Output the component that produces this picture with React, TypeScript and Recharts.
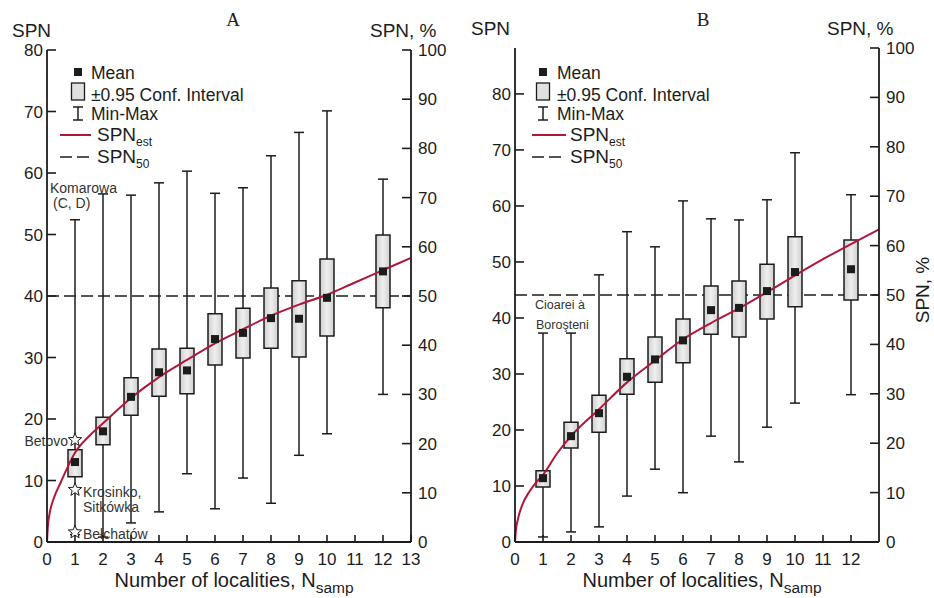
import React from "react";
import {
  ComposedChart,
  Bar,
  Line,
  Scatter,
  ErrorBar,
  XAxis,
  YAxis,
  ReferenceLine,
  ReferenceDot,
  Legend,
} from "recharts";

const INK = "#1c1c1c";
const RED = "#b0163a";
const FONT = "'Liberation Sans', Arial, sans-serif";

// ---- panel A ----
const nA = [1, 2, 3, 4, 5, 6, 7, 8, 9, 10, 12];
const meanA = [13.0, 18.0, 23.6, 27.6, 27.9, 33.0, 34.0, 36.4, 36.3, 39.7, 44.0];
const ciLowA = [10.6, 15.8, 20.6, 23.7, 24.1, 28.8, 29.9, 31.5, 30.1, 33.5, 38.1];
const ciHighA = [15.0, 20.3, 26.7, 31.4, 31.5, 37.1, 38.0, 41.3, 42.5, 46.0, 49.9];
const minA = [1.2, 0.8, 3.1, 4.9, 11.1, 5.4, 10.4, 6.3, 14.1, 17.6, 24.0];
const maxA = [52.4, 56.6, 56.4, 58.4, 60.3, 56.7, 57.6, 62.8, 66.6, 70.1, 59.0];
const curveNA = [0, 0.03, 0.1, 0.25, 0.5, 0.75, 1, 1.5, 2, 3, 4, 5, 6, 7, 8, 9, 10, 11, 12, 13];
const curveVA = [0, 2.5, 4.8, 7.2, 9.8, 12.3, 14.5, 17.2, 19.3, 23.4, 26.8, 29.6, 32.3, 34.6, 36.8, 38.6, 40.2, 42.2, 44.2, 46.2];
const spn50A = 40;
const starValuesA = [16.6, 8.5, 1.6];
const starNamesA = [["Betovo"], ["Krosinko,", "Sitkówka"], ["Bełchatów"]];
const noteA = ["Komarowa", "(C, D)"];
const xTicksA = [0, 1, 2, 3, 4, 5, 6, 7, 8, 9, 10, 11, 12, 13];
const leftTicksA = [0, 10, 20, 30, 40, 50, 60, 70, 80];

// ---- panel B ----
const nB = [1, 2, 3, 4, 5, 6, 7, 8, 9, 10, 12];
const meanB = [11.4, 18.9, 23.0, 29.5, 32.6, 36.0, 41.4, 41.8, 44.8, 48.2, 48.7];
const ciLowB = [9.8, 16.8, 19.6, 26.4, 28.5, 32.0, 37.1, 36.6, 39.8, 42.0, 43.2];
const ciHighB = [12.7, 21.4, 26.2, 32.7, 36.6, 39.8, 45.7, 46.6, 49.6, 54.5, 53.9];
const minB = [0.9, 1.8, 2.7, 8.2, 13.0, 8.8, 18.9, 14.3, 20.5, 24.8, 26.3];
const maxB = [37.3, 37.3, 47.7, 55.4, 52.7, 60.9, 57.7, 57.5, 61.1, 69.5, 62.0];
const curveNB = [0, 0.03, 0.1, 0.25, 0.5, 0.75, 1, 1.5, 2, 3, 4, 5, 6, 7, 8, 9, 10, 11, 12, 13];
const curveVB = [0, 2.0, 4.0, 6.5, 8.9, 10.6, 12.0, 15.8, 18.9, 23.7, 28.5, 32.4, 36.2, 39.1, 41.7, 44.6, 47.6, 50.5, 53.2, 55.8];
const spn50B = 44.1;
const noteB = ["Cioarei à", "Boroşteni"];
const xTicksB = [0, 1, 2, 3, 4, 5, 6, 7, 8, 9, 10, 11, 12];
const leftTicksB = [0, 10, 20, 30, 40, 50, 60, 70, 80];

const rightTicks = [0, 10, 20, 30, 40, 50, 60, 70, 80, 90, 100];

const buildRows = (n: number[], mean: number[], lo: number[], hi: number[], min: number[], max: number[]) =>
  n.map((x, i) => ({
    n: x,
    mean: mean[i],
    ci: [lo[i], hi[i]],
    err: [mean[i] - min[i], max[i] - mean[i]],
  }));

const buildCurve = (n: number[], v: number[]) => n.map((x, i) => ({ n: x, v: v[i] }));

const LeftTick = (p: any) => (
  <g>
    <line x1={p.x} y1={p.y} x2={p.x + 9} y2={p.y} stroke={INK} strokeWidth={1.6} />
    <text x={p.x - 4} y={p.y + 6} textAnchor="end" fontSize={17} fill={INK}>
      {p.payload.value}
    </text>
  </g>
);

const RightTick = (p: any) => (
  <g>
    <line x1={p.x - 9} y1={p.y} x2={p.x} y2={p.y} stroke={INK} strokeWidth={1.6} />
    <text x={p.x + 7} y={p.y + 6} textAnchor="start" fontSize={17} fill={INK}>
      {p.payload.value}
    </text>
  </g>
);

const BottomTick = (p: any) => (
  <g>
    <line x1={p.x} y1={p.y} x2={p.x} y2={p.y - 7} stroke={INK} strokeWidth={1.6} />
    <text x={p.x} y={p.y + 23} textAnchor="middle" fontSize={17} fill={INK}>
      {p.payload.value}
    </text>
  </g>
);

const MeanSquare = (p: any) => <rect x={p.cx - 4} y={p.cy - 4} width={8} height={8} fill={INK} />;

const Star = (p: any) => {
  const pts: string[] = [];
  for (let i = 0; i < 10; i++) {
    const r = i % 2 === 0 ? 7 : 3;
    const a = -Math.PI / 2 + (i * Math.PI) / 5;
    pts.push(`${p.cx + r * Math.cos(a)},${p.cy + r * Math.sin(a)}`);
  }
  return <polygon points={pts.join(" ")} fill="#fff" stroke={INK} strokeWidth={1} />;
};

const LegendBox = ({ iconCx, textX, lineX2, spnX }: any) => (
  <svg width={240} height={112} style={{ overflow: "visible", fontFamily: FONT }}>
    <rect x={iconCx - 4} y={8} width={8} height={8} fill={INK} />
    <text x={textX} y={19} fontSize={17.5} fill={INK}>Mean</text>
    <rect x={iconCx - 6.5} y={23} width={13} height={17} fill="#e0e0e0" stroke={INK} strokeWidth={1.3} />
    <text x={textX} y={41} fontSize={17.5} fill={INK}>±0.95 Conf. Interval</text>
    <line x1={iconCx} y1={47} x2={iconCx} y2={60} stroke={INK} strokeWidth={1.5} />
    <line x1={iconCx - 5} y1={47} x2={iconCx + 5} y2={47} stroke={INK} strokeWidth={1.5} />
    <line x1={iconCx - 5} y1={60} x2={iconCx + 5} y2={60} stroke={INK} strokeWidth={1.5} />
    <text x={textX} y={60} fontSize={17.5} fill={INK}>Min-Max</text>
    <line x1={2} y1={75} x2={lineX2} y2={75} stroke={RED} strokeWidth={2} />
    <text x={spnX} y={81} fontSize={19} fill={INK}>
      SPN<tspan fontSize={12} dy={5}>est</tspan>
    </text>
    <line x1={2} y1={97} x2={lineX2} y2={97} stroke={INK} strokeWidth={1.6} strokeDasharray="12 5" />
    <text x={spnX} y={103} fontSize={19} fill={INK}>
      SPN<tspan fontSize={12} dy={5}>50</tspan>
    </text>
  </svg>
);

const XTitle = ({ viewBox }: any) => (
  <text x={viewBox.x + viewBox.width / 2 + 5} y={viewBox.y + 45} textAnchor="middle" fontSize={20} fill={INK}>
    Number of localities, N<tspan fontSize={15.5} dy={6}>samp</tspan>
  </text>
);

interface PanelCfg {
  id: string;
  title: string;
  titleX: number;
  top: number;
  leftW: number;
  rightW: number;
  leftMax: number;
  leftTicks: number[];
  xTicks: number[];
  rows: any[];
  curve: any[];
  spn50: number;
  legend: any;
  legendLeft: number;
  spnTopDx: number;
  spnPctDx: number;
  sideLabel: boolean;
  extras: React.ReactNode;
}

function Panel({ cfg }: { cfg: PanelCfg }) {
  return (
    <ComposedChart
      width={467}
      height={598}
      data={cfg.rows}
      margin={{ top: cfg.top, right: 0, bottom: 0, left: 0 }}
    >
      <defs>
        <linearGradient id={`ci-${cfg.id}`} x1="0" y1="0" x2="1" y2="0">
          <stop offset="0%" stopColor="#cfcfcf" />
          <stop offset="50%" stopColor="#efefef" />
          <stop offset="100%" stopColor="#cfcfcf" />
        </linearGradient>
      </defs>
      <XAxis
        dataKey="n"
        type="number"
        domain={[0, 13]}
        ticks={cfg.xTicks}
        interval={0}
        height={56}
        tickSize={0}
        tickMargin={0}
        tickLine={false}
        axisLine={{ stroke: INK, strokeWidth: 1.8 }}
        tick={<BottomTick />}
        label={{ content: (p: any) => <XTitle viewBox={p.viewBox} /> }}
      />
      <XAxis xAxisId="curve" dataKey="n" type="number" domain={[0, 13]} hide />
      <YAxis
        yAxisId="left"
        orientation="left"
        type="number"
        domain={[0, cfg.leftMax]}
        ticks={cfg.leftTicks}
        interval={0}
        width={cfg.leftW}
        tickSize={0}
        tickMargin={0}
        tickLine={false}
        allowDataOverflow
        axisLine={{ stroke: INK, strokeWidth: 1.8 }}
        tick={<LeftTick />}
        label={{
          content: (p: any) => (
            <text x={p.viewBox.x + cfg.spnTopDx} y={p.viewBox.y - 13} fontSize={19} fill={INK}>
              SPN
            </text>
          ),
        }}
      />
      <YAxis
        yAxisId="right"
        orientation="right"
        type="number"
        domain={[0, 100]}
        ticks={rightTicks}
        interval={0}
        width={cfg.rightW}
        tickSize={0}
        tickMargin={0}
        tickLine={false}
        allowDataOverflow
        axisLine={{ stroke: INK, strokeWidth: 1.8 }}
        tick={<RightTick />}
        label={{
          content: (p: any) => (
            <g>
              <text x={p.viewBox.x + cfg.spnPctDx} y={p.viewBox.y - 13} fontSize={19} fill={INK}>
                SPN, %
              </text>
              {cfg.sideLabel && (
                <text
                  x={p.viewBox.x + 50}
                  y={290}
                  fontSize={19}
                  fill={INK}
                  textAnchor="middle"
                  transform={`rotate(-90 ${p.viewBox.x + 50} 290)`}
                >
                  SPN, %
                </text>
              )}
            </g>
          ),
        }}
      />
      <ReferenceLine
        yAxisId="left"
        y={cfg.spn50}
        stroke={INK}
        strokeWidth={1.6}
        strokeDasharray="12 5"
        zIndex={50}
      />
      <Scatter
        yAxisId="left"
        dataKey="mean"
        shape={() => <g />}
        legendType="none"
        isAnimationActive={false}
        zIndex={100}
      >
        <ErrorBar dataKey="err" direction="y" width={5} stroke={INK} strokeWidth={1.5} zIndex={100} />
      </Scatter>
      <Bar
        yAxisId="left"
        dataKey="ci"
        barSize={14}
        fill={`url(#ci-${cfg.id})`}
        stroke={INK}
        strokeWidth={1.5}
        isAnimationActive={false}
        zIndex={200}
      />
      <Line
        xAxisId="curve"
        yAxisId="left"
        data={cfg.curve}
        dataKey="v"
        type="monotone"
        stroke={RED}
        strokeWidth={2}
        dot={false}
        activeDot={false}
        isAnimationActive={false}
        zIndex={300}
      />
      <Scatter yAxisId="left" dataKey="mean" shape={MeanSquare} isAnimationActive={false} zIndex={400} />
      {cfg.extras}
      <Legend
        layout="vertical"
        align="center"
        verticalAlign="middle"
        wrapperStyle={{ left: cfg.legendLeft, top: 60, width: 240, height: 112 }}
        content={() => <LegendBox {...cfg.legend} />}
      />
      <text x={cfg.titleX} y={26} textAnchor="middle" fontSize={19} fontFamily="'Liberation Serif', serif" fill={INK}>
        {cfg.title}
      </text>
    </ComposedChart>
  );
}

const starLabel = (lines: string[], i: number) => (p: any) => {
  const cx = p.viewBox.x + p.viewBox.width / 2;
  const cy = p.viewBox.y + p.viewBox.height / 2;
  if (i === 0) {
    return (
      <text x={cx - 7} y={cy + 6} textAnchor="end" fontSize={14} fill="#333">
        {lines[0]}
      </text>
    );
  }
  return (
    <text x={cx + 8} y={cy + 7} fontSize={14} fill="#333">
      {lines.map((s, k) => (
        <tspan key={k} x={cx + 8} dy={k === 0 ? 0 : 15}>
          {s}
        </tspan>
      ))}
    </text>
  );
};

const extrasA = (
  <>
    {starValuesA.map((v, i) => (
      <ReferenceDot
        key={i}
        yAxisId="left"
        x={1}
        y={v}
        r={6}
        shape={Star}
        label={starLabel(starNamesA[i], i)}
        zIndex={500}
      />
    ))}
    <ReferenceDot
      yAxisId="left"
      x={nA[0]}
      y={maxA[0]}
      r={0}
      shape={() => <g />}
      label={(p: any) => (
        <text fontSize={14} fill="#333">
          <tspan x={p.viewBox.x - 25} y={p.viewBox.y - 27}>{noteA[0]}</tspan>
          <tspan x={p.viewBox.x - 22} y={p.viewBox.y - 12}>{noteA[1]}</tspan>
        </text>
      )}
    />
  </>
);

const extrasB = (
  <ReferenceDot
    yAxisId="left"
    x={nB[0]}
    y={maxB[0]}
    r={0}
    shape={() => <g />}
    label={(p: any) => (
      <text fontSize={12.5} fill="#333">
        <tspan x={p.viewBox.x - 8} y={p.viewBox.y - 24}>{noteB[0]}</tspan>
        <tspan x={p.viewBox.x - 7} y={p.viewBox.y - 4}>{noteB[1]}</tspan>
      </text>
    )}
  />
);

const panelA: PanelCfg = {
  id: "a",
  title: "A",
  titleX: 233,
  top: 50,
  leftW: 47,
  rightW: 56,
  leftMax: 80,
  leftTicks: leftTicksA,
  xTicks: xTicksA,
  rows: buildRows(nA, meanA, ciLowA, ciHighA, minA, maxA),
  curve: buildCurve(curveNA, curveVA),
  spn50: spn50A,
  legend: { iconCx: 20, textX: 33, lineX2: 33, spnX: 39 },
  legendLeft: 58,
  spnTopDx: 12,
  spnPctDx: -41,
  sideLabel: false,
  extras: extrasA,
};

const panelB: PanelCfg = {
  id: "b",
  title: "B",
  titleX: 236,
  top: 48,
  leftW: 48,
  rightW: 55,
  leftMax: 88.2,
  leftTicks: leftTicksB,
  xTicks: xTicksB,
  rows: buildRows(nB, meanB, ciLowB, ciHighB, minB, maxB),
  curve: buildCurve(curveNB, curveVB),
  spn50: spn50B,
  legend: { iconCx: 13, textX: 27, lineX2: 36, spnX: 40 },
  legendLeft: 63,
  spnTopDx: 4,
  spnPctDx: -52,
  sideLabel: true,
  extras: extrasB,
};

export default function App() {
  return (
    <div
      style={{
        position: "absolute",
        left: 0,
        top: 0,
        width: 934,
        height: 598,
        background: "#fff",
        display: "flex",
        fontFamily: FONT,
        color: INK,
        overflow: "hidden",
      }}
    >
      <Panel cfg={panelA} />
      <Panel cfg={panelB} />
    </div>
  );
}
